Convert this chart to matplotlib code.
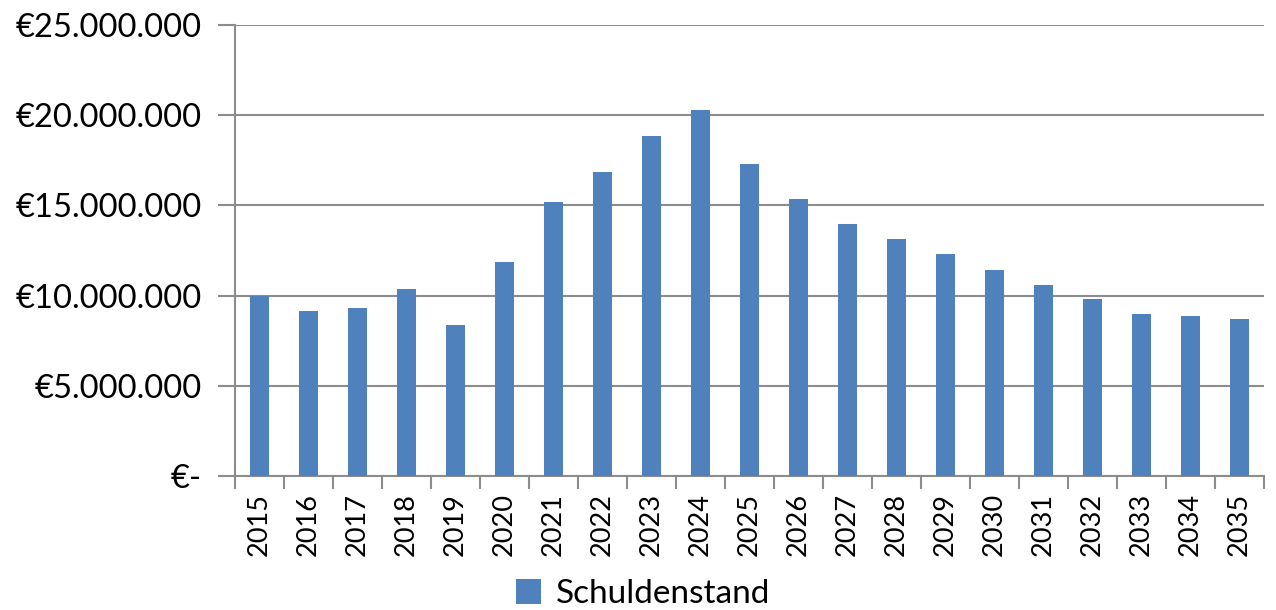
import numpy as np
import matplotlib.pyplot as plt
from matplotlib.ticker import FuncFormatter, FixedLocator

years = [str(y) for y in range(2015, 2036)]
schuldenstand = [10.0, 9.15, 9.3, 10.38, 8.37, 11.87, 15.19, 16.85, 18.86, 20.3,
                 17.29, 15.35, 13.97, 13.14, 12.31, 11.42, 10.59, 9.8, 8.97, 8.86, 8.7]
schuldenstand = [v * 1e6 for v in schuldenstand]

plt.rcParams['font.family'] = ['Lato', 'DejaVu Sans']

grey = '#8c8c8c'
fig = plt.figure(figsize=(12.76, 6.10), dpi=100)
ax = fig.add_axes([235 / 1276, 1 - 476 / 610, 1029 / 1276, 451 / 610])

x = np.arange(len(years))
ax.bar(x, schuldenstand, width=0.39, color='#4f81bd', label='Schuldenstand', zorder=3)

ax.set_xlim(-0.5, len(years) - 0.5)
ax.set_ylim(0, 25e6)
ax.set_yticks(np.arange(0, 25e6 + 1, 5e6))


def euro(v, pos):
    if v == 0:
        return '€-'
    return '€' + f'{int(v):,}'.replace(',', '.')


ax.yaxis.set_major_formatter(FuncFormatter(euro))
ax.set_xticks(x)
ax.set_xticklabels(years, rotation=90)
ax.xaxis.set_minor_locator(FixedLocator(np.arange(-0.5, len(years), 1)))
ax.tick_params(axis='x', which='major', length=0, labelsize=19.5, pad=12)
ax.tick_params(axis='x', which='minor', length=9, color=grey, width=1.5)
ax.tick_params(axis='y', length=12, color=grey, width=1.5, labelsize=23.5, pad=12)

ax.grid(axis='y', color=grey, linewidth=1.5, zorder=0)
for s in ['top', 'right']:
    ax.spines[s].set_visible(False)
for s in ['left', 'bottom']:
    ax.spines[s].set_color(grey)
    ax.spines[s].set_linewidth(1.5)

fig.legend(loc='center', bbox_to_anchor=(643 / 1276, 1 - 594 / 610), frameon=False,
           fontsize=24, handlelength=0.75, handleheight=0.75, handletextpad=0.45,
           borderpad=0.1)

fig.savefig('out.png', dpi=100)
